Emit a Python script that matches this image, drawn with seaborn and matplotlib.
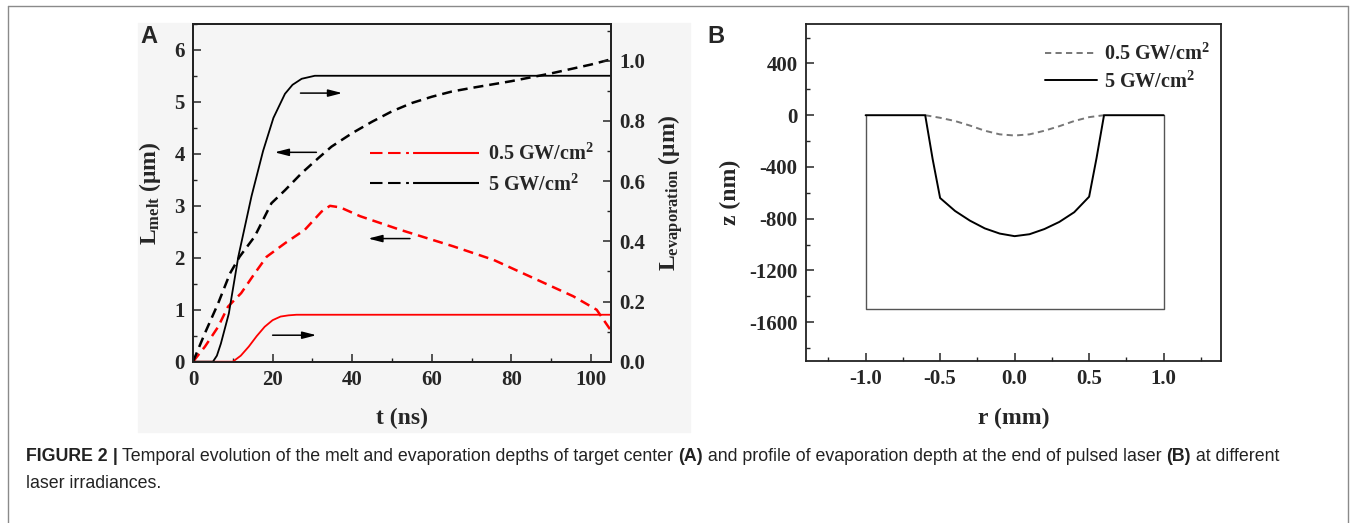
import matplotlib
matplotlib.use('Agg')
import matplotlib.pyplot as plt
import seaborn as sns
from matplotlib.lines import Line2D
from matplotlib.patches import Rectangle
from matplotlib.ticker import MultipleLocator

# ---- panel A data ----
t_melt_05 = [0, 3, 6.3, 8.8, 12.1, 15.5, 18.5, 23.1, 28.1, 32.3, 34.4, 37, 42, 52, 65.4, 75.5, 85.5, 95.5, 101.4, 104.8]
melt_05 = [0, 0.29, 0.67, 1.06, 1.32, 1.70, 2.02, 2.28, 2.54, 2.89, 3.0, 2.97, 2.8, 2.54, 2.22, 1.96, 1.61, 1.26, 1.0, 0.62]

t_melt_5 = [0, 3, 6.3, 9.3, 11.7, 15.5, 19.7, 23.1, 27.3, 31.5, 34.8, 40, 45, 50, 55, 60, 65, 70, 80, 90, 100, 105]
melt_5 = [0, 0.55, 1.12, 1.70, 2.02, 2.41, 3.05, 3.3, 3.63, 3.92, 4.14, 4.4, 4.62, 4.82, 4.98, 5.1, 5.2, 5.27, 5.4, 5.55, 5.72, 5.82]

t_evap_05 = [0, 10, 12, 14, 16, 18, 20, 22, 24, 26, 105]
evap_05 = [0, 0, 0.02, 0.05, 0.085, 0.116, 0.138, 0.15, 0.154, 0.156, 0.156]

t_evap_5 = [0, 5, 6, 7, 8, 9, 11.4, 14.7, 17.6, 20.2, 23.1, 25, 27.3, 30.6, 105]
evap_5 = [0, 0, 0.02, 0.06, 0.11, 0.16, 0.35, 0.55, 0.70, 0.81, 0.89, 0.92, 0.94, 0.95, 0.95]

# arrows (left-axis units): tail t, head t, level
arrow_tail = [27, 31, 54.5, 20]
arrow_head = [37.5, 20.5, 44, 31]
arrow_level = [5.17, 4.03, 2.37, 0.51]

# ---- panel B data ----
r_05 = [-0.6, -0.5, -0.4, -0.3, -0.2, -0.1, 0, 0.1, 0.2, 0.3, 0.4, 0.5, 0.6]
z_05 = [0, -20, -45, -80, -120, -148, -157, -148, -120, -85, -45, -15, 0]

r_5 = [-1.0, -0.6, -0.55, -0.5, -0.4, -0.3, -0.2, -0.1, 0, 0.1, 0.2, 0.3, 0.4, 0.5, 0.55, 0.6, 1.0]
z_5 = [0, 0, -340, -640, -740, -815, -875, -915, -935, -920, -880, -825, -750, -630, -330, 0, 0]

r_box = [-1.0, -1.0, 1.0, 1.0]
z_box = [0, -1500, -1500, 0]

labels = ['0.5 GW/cm$^{2}$', '5 GW/cm$^{2}$']

sns.set_theme(style='ticks')
plt.rcParams['font.family'] = ['Liberation Serif', 'DejaVu Serif']
plt.rcParams['font.weight'] = 'bold'
plt.rcParams['axes.labelweight'] = 'bold'
plt.rcParams['mathtext.fontset'] = 'custom'
plt.rcParams['mathtext.rm'] = 'Liberation Serif:bold'
plt.rcParams['mathtext.it'] = 'Liberation Serif:bold'
plt.rcParams['mathtext.bf'] = 'Liberation Serif:bold'
plt.rcParams['axes.unicode_minus'] = False
plt.rcParams['xtick.direction'] = 'in'
plt.rcParams['ytick.direction'] = 'in'

W, H = 1354, 523
fig = plt.figure(figsize=(W / 100, H / 100), dpi=100)
fig.patch.set_facecolor('white')

# grey background of panel A image
fig.patches.append(Rectangle((138 / W, 1 - 432 / H), (690 - 138) / W, (432 - 23) / H,
                             transform=fig.transFigure, color='#f5f5f5', zorder=-5))
# outer frame (left, top, right)
for xs, ys in [([8 / W, 8 / W], [0, 1 - 6 / H]),
               ([8 / W, 1348 / W], [1 - 6 / H, 1 - 6 / H]),
               ([1348 / W, 1348 / W], [1 - 6 / H, 0])]:
    fig.add_artist(Line2D(xs, ys, color='#8a8a8a', lw=1.0, transform=fig.transFigure))

axA = fig.add_axes([193 / W, 1 - 361.7 / H, (611 - 193) / W, (361.7 - 24) / H])
axA.set_facecolor('#f5f5f5')
axB = fig.add_axes([806 / W, 1 - 361 / H, (1221 - 806) / W, (361 - 24) / H])


def style_axis(ax):
    for s in ax.spines.values():
        s.set_linewidth(1.3)
        s.set_color('#222222')
    ax.tick_params(which='major', length=6, width=1.1, labelsize=15, pad=6)
    ax.tick_params(which='minor', length=3, width=1.0)


# ---- panel A ----
lw_d = 1.8
dash_A = (0, (7.2 / lw_d, 4.3 / lw_d))
sns.lineplot(x=t_melt_05, y=melt_05, ax=axA, color='red', lw=lw_d, linestyle=dash_A, estimator=None)
sns.lineplot(x=t_melt_5, y=melt_5, ax=axA, color='black', lw=lw_d, linestyle=dash_A, estimator=None)
axA.set_xlim(0, 105)
axA.set_ylim(0, 6.5)
axA.xaxis.set_major_locator(MultipleLocator(20))
axA.xaxis.set_minor_locator(MultipleLocator(10))
axA.yaxis.set_major_locator(MultipleLocator(1))
axA.yaxis.set_minor_locator(MultipleLocator(0.5))
axA.set_xlabel('t (ns)', fontsize=17, labelpad=13)
axA.set_ylabel('L$_{\\mathrm{melt}}$ (\u03bcm)', fontsize=17, labelpad=8)
style_axis(axA)

axA2 = axA.twinx()
sns.lineplot(x=t_evap_05, y=evap_05, ax=axA2, color='red', lw=1.3, estimator=None)
sns.lineplot(x=t_evap_5, y=evap_5, ax=axA2, color='black', lw=1.3, estimator=None)
axA2.set_ylim(0, 1.122)
axA2.yaxis.set_major_locator(MultipleLocator(0.2))
axA2.yaxis.set_minor_locator(MultipleLocator(0.1))
axA2.yaxis.set_major_formatter(matplotlib.ticker.FormatStrFormatter('%.1f'))
axA2.set_ylabel('L$_{\\mathrm{evaporation}}$ (\u03bcm)', fontsize=17, labelpad=8)
style_axis(axA2)
axA.tick_params(axis='y', right=False)
axA2.tick_params(axis='y', left=False)

for tail, head, lev in zip(arrow_tail, arrow_head, arrow_level):
    axA.annotate('', xy=(head, lev), xytext=(tail, lev),
                 arrowprops=dict(arrowstyle='-|>,head_length=0.7,head_width=0.18',
                                 color='black', lw=1.1, shrinkA=0, shrinkB=0))

lw_l = 1.5
leg_dash = (0, (9 / lw_l, 4 / lw_l, 9 / lw_l, 4 / lw_l, 2 / lw_l, 3 / lw_l, 45 / lw_l, 0.01))
hA = [Line2D([], [], color='red', lw=lw_l, linestyle=leg_dash),
      Line2D([], [], color='black', lw=lw_l, linestyle=leg_dash)]
axA.legend(hA, labels, loc='upper left', bbox_to_anchor=(0.423, 1 - 120 / 337.7),
           frameon=False, fontsize=14.5, handlelength=5.4, handletextpad=0.45,
           borderpad=0, borderaxespad=0, labelspacing=0.45)

# ---- panel B ----
sns.lineplot(x=r_box, y=z_box, ax=axB, color='#555555', lw=1.0, sort=False, estimator=None)
sns.lineplot(x=r_05, y=z_05, ax=axB, color='#777777', lw=1.4, linestyle=(0, (3.2, 2.2)),
             sort=False, estimator=None)
sns.lineplot(x=r_5, y=z_5, ax=axB, color='black', lw=1.4, sort=False, estimator=None)
axB.set_xlim(-1.4, 1.385)
axB.set_ylim(-1900, 705)
axB.xaxis.set_major_locator(MultipleLocator(0.5))
axB.xaxis.set_minor_locator(MultipleLocator(0.25))
axB.yaxis.set_major_locator(MultipleLocator(400))
axB.yaxis.set_minor_locator(MultipleLocator(200))
axB.xaxis.set_major_formatter(matplotlib.ticker.FormatStrFormatter('%.1f'))
axB.set_xlabel('r (mm)', fontsize=17, labelpad=13)
axB.set_ylabel('z (nm)', fontsize=17, labelpad=6)
style_axis(axB)

hB = [Line2D([], [], color='#777777', lw=1.4, linestyle=(0, (3.2, 2.2))),
      Line2D([], [], color='black', lw=1.4)]
axB.legend(hB, labels, loc='upper right', bbox_to_anchor=(1 - 11 / 415, 1 - 20 / 337),
           frameon=False, fontsize=14.5, handlelength=2.6, handletextpad=0.35,
           borderpad=0, borderaxespad=0, labelspacing=0.3)

# panel letters
fig.text(140 / W, 1 - 43 / H, 'A', fontsize=17, fontweight='bold', family='Liberation Sans')
fig.text(707 / W, 1 - 43 / H, 'B', fontsize=17, fontweight='bold', family='Liberation Sans')

# caption with mixed bold / regular runs
renderer = fig.canvas.get_renderer()
runs1 = [('FIGURE 2', 'bold'), (' | ', 'bold'),
         ('Temporal evolution of the melt and evaporation depths of target center ', 'normal'),
         ('(A)', 'bold'), (' and profile of evaporation depth at the end of pulsed laser ', 'normal'),
         ('(B)', 'bold'), (' at different', 'normal')]
cap_fs = 12.75
x = 26 / W
for txt, wt in runs1:
    tt = fig.text(x, 1 - 461 / H, txt, fontsize=cap_fs, fontweight=wt, family='Liberation Sans',
                  color='#222222', va='baseline')
    bb = tt.get_window_extent(renderer)
    x += bb.width / W
fig.text(26 / W, 1 - 488 / H, 'laser irradiances.', fontsize=cap_fs, fontweight='normal',
         family='Liberation Sans', color='#222222', va='baseline')

fig.savefig('out.png', dpi=100)
